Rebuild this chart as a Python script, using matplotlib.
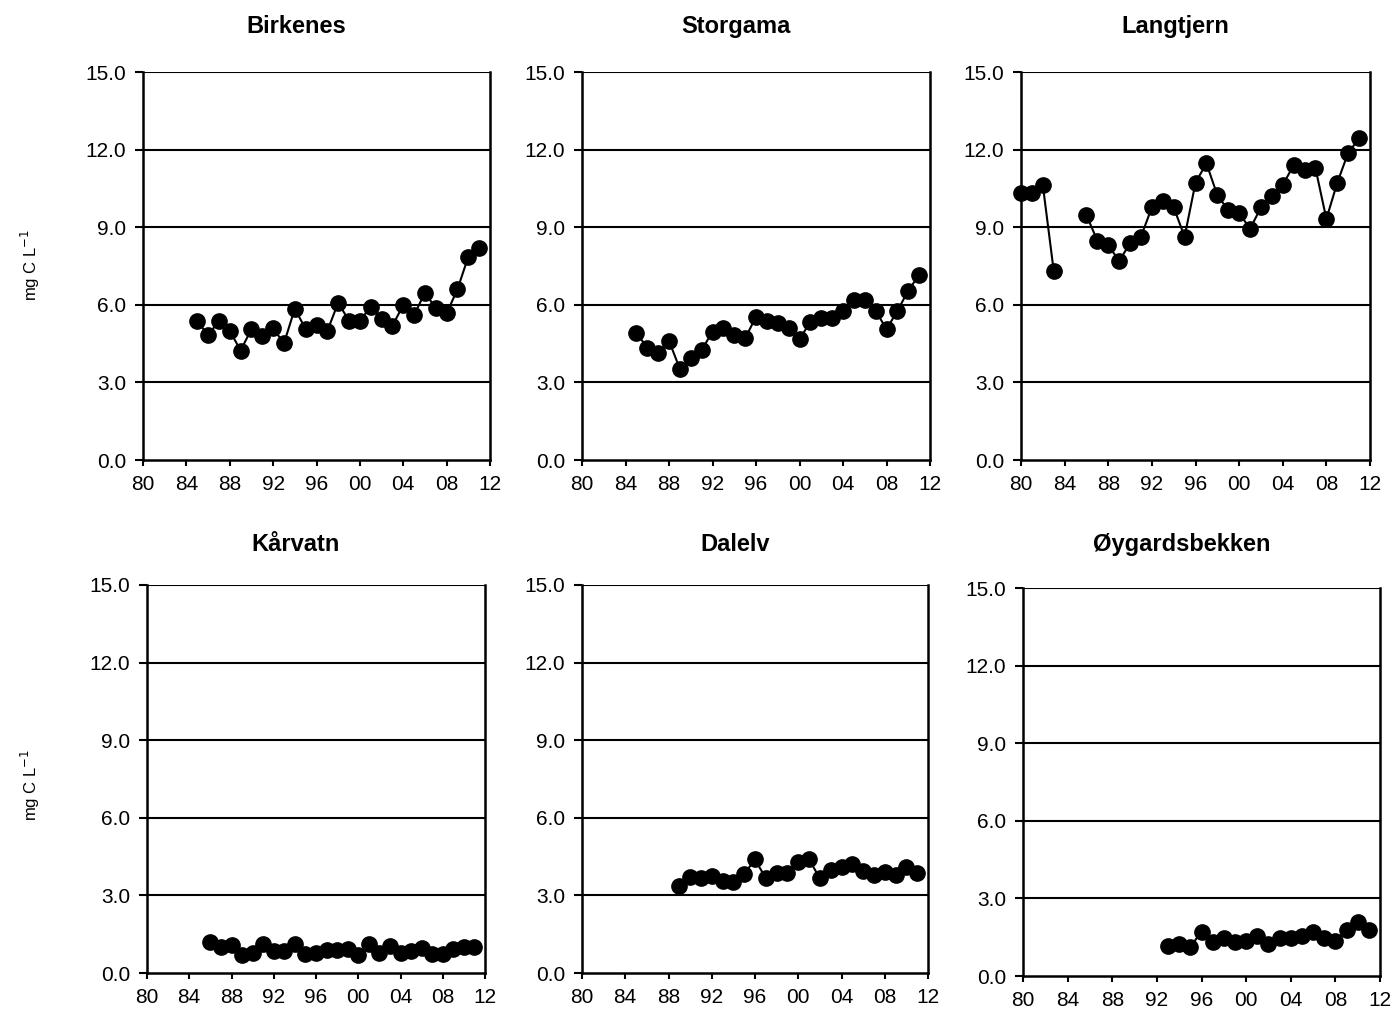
import numpy as np
import matplotlib.pyplot as plt
from matplotlib.ticker import FuncFormatter

plt.rcParams['font.family'] = ['Liberation Sans', 'DejaVu Sans']

# --- data (mg C per litre, yearly means) ---
birkenes_years = list(range(1985, 2012))
birkenes = [5.38, 4.82, 5.38, 5.00, 4.23, 5.06, 4.79, 5.09, 4.51, 5.85, 5.06, 5.22, 4.99, 6.08,
            5.38, 5.38, 5.93, 5.44, 5.19, 5.99, 5.60, 6.47, 5.86, 5.67, 6.60, 7.86, 8.18]

storgama_years = list(range(1985, 2012))
storgama = [4.92, 4.34, 4.15, 4.61, 3.52, 3.93, 4.25, 4.96, 5.09, 4.83, 4.70, 5.54, 5.38, 5.31,
            5.09, 4.66, 5.35, 5.48, 5.48, 5.77, 6.18, 6.18, 5.77, 5.06, 5.76, 6.55, 7.15]

langtjern_years = list(range(1980, 2012))
langtjern = [10.33, 10.31, 10.63, 7.31, np.nan, np.nan, 9.47, 8.48, 8.31, 7.69, 8.38, 8.63,
             9.77, 10.01, 9.77, 8.63, 10.72, 11.47, 10.24, 9.66, 9.56, 8.93, 9.77, 10.20,
             10.63, 11.40, 11.21, 11.28, 9.32, 10.72, 11.88, 12.43]

karvatn_years = list(range(1986, 2012))
karvatn = [1.21, 1.02, 1.08, 0.70, 0.79, 1.11, 0.85, 0.86, 1.11, 0.73, 0.76, 0.89, 0.89,
           0.92, 0.70, 1.11, 0.76, 1.04, 0.76, 0.86, 0.95, 0.73, 0.73, 0.92, 1.02, 0.99]

dalelv_years = list(range(1989, 2012))
dalelv = [3.36, 3.70, 3.66, 3.75, 3.56, 3.53, 3.83, 4.39, 3.66, 3.85, 3.85, 4.30, 4.39,
          3.66, 3.98, 4.11, 4.20, 3.95, 3.79, 3.90, 3.79, 4.10, 3.85]

oygard_years = list(range(1993, 2012))
oygard = [1.17, 1.24, 1.13, 1.71, 1.30, 1.46, 1.30, 1.36, 1.55, 1.24, 1.46, 1.46, 1.55,
          1.71, 1.46, 1.36, 1.77, 2.09, 1.77]

sites = [
    ("Birkenes", birkenes_years, birkenes),
    ("Storgama", storgama_years, storgama),
    ("Langtjern", langtjern_years, langtjern),
    ("Kårvatn", karvatn_years, karvatn),
    ("Dalelv", dalelv_years, dalelv),
    ("Øygardsbekken", oygard_years, oygard),
]

x_ticks = list(range(1980, 2013, 4))
y_ticks = [0, 3, 6, 9, 12, 15]

W, H = 1395, 1013
fig = plt.figure(figsize=(W / 100, H / 100), dpi=100)

# axes boxes in pixels: left, right, top, bottom
boxes = [
    (143, 490, 72, 460),
    (582, 930, 72, 460),
    (1021, 1370, 72, 460),
    (147, 485, 585, 973),
    (582, 928, 585, 973),
    (1023, 1380, 588, 976),
]
title_base = [33, 33, 33, 551, 551, 551]

for (name, yrs, vals), (l, r, t, b), tb in zip(sites, boxes, title_base):
    ax = fig.add_axes([l / W, 1 - b / H, (r - l) / W, (b - t) / H])
    for yv in y_ticks[1:]:
        ax.axhline(yv, color='black', lw=1.5, zorder=1)
    ax.plot(yrs, vals, color='black', lw=1.5, marker='o', markersize=11, zorder=3,
            clip_on=False)
    ax.set_xlim(1980, 2012)
    ax.set_ylim(0, 15)
    ax.set_xticks(x_ticks)
    ax.xaxis.set_major_formatter(FuncFormatter(lambda v, p: "%02d" % (int(v) % 100)))
    ax.set_yticks(y_ticks)
    ax.yaxis.set_major_formatter(FuncFormatter(lambda v, p: "%.1f" % v))
    ax.spines['top'].set_visible(False)
    for s in ['left', 'bottom', 'right']:
        ax.spines[s].set_linewidth(1.8)
    ax.tick_params(axis='x', direction='out', length=4, width=1.5, labelsize=15, pad=7)
    ax.tick_params(axis='y', direction='out', length=6, width=1.5, labelsize=15, pad=6)
    fig.text(((l + r) / 2 - 20) / W, 1 - tb / H, name, ha='center', va='baseline',
             fontsize=17, fontweight='bold')

fig.text(30 / W, 1 - 265 / H, "mg C L$^{-1}$", rotation=90, ha='center', va='center', fontsize=12)
fig.text(30 / W, 1 - 785 / H, "mg C L$^{-1}$", rotation=90, ha='center', va='center', fontsize=12)

fig.savefig("out.png", dpi=100)
